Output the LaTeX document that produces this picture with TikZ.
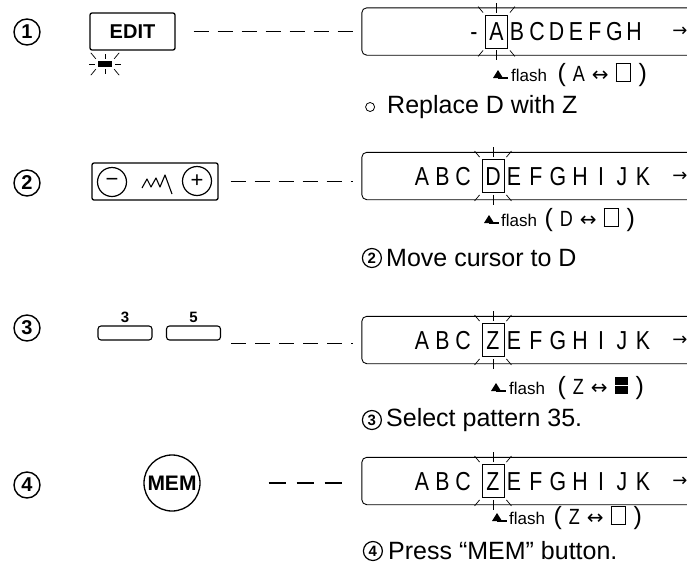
\documentclass[tikz,border=0pt]{standalone}
\usepackage{fontspec}
\setmainfont{Liberation Sans}
\newfontfamily\symfont{DejaVu Sans}
\newfontfamily\lcdfont{Liberation Sans}[FakeStretch=0.82]
\usetikzlibrary{positioning, arrows.meta}

% rays round a flashing cell
\newcommand{\sparkle}[2]{%
  \draw[ray] ([yshift=2pt]#1.north) -- ([yshift=#2]#1.north);
  \draw[ray] ([shift={(-2pt,2pt)}]#1.north west) -- ++(-5pt,6pt);
  \draw[ray] ([shift={(2pt,2pt)}]#1.north east) -- ++(5pt,6pt);
  \draw[ray] ([yshift=-2pt]#1.south) -- ([yshift=-#2]#1.south);
  \draw[ray] ([shift={(-2pt,-2pt)}]#1.south west) -- ++(-5pt,-6pt);
  \draw[ray] ([shift={(2pt,-2pt)}]#1.south east) -- ++(5pt,-6pt);
}
\newcommand{\blankcell}{{\setlength{\fboxsep}{0pt}\setlength{\fboxrule}{1pt}\fbox{\rule{0pt}{17pt}\hspace{13pt}}}}
\newcommand{\fullcell}{\rlap{\rule{13pt}{17pt}}\textcolor{white}{\rule[8pt]{13pt}{1.2pt}}}
\newcommand{\swap}[2]{{\fontsize{25}{25}\selectfont(}\hspace{7pt}{\lcdfont\fontsize{22}{22}\selectfont #1}\hspace{7pt}{\symfont\fontsize{20}{20}\selectfont ↔}\hspace{7pt}#2\hspace{8pt}{\fontsize{25}{25}\selectfont)}}

\begin{document}
\begin{tikzpicture}[x=1pt, y=-1pt,
    num/.style={circle, draw, line width=1.4pt, minimum size=26pt, inner sep=0pt, font=\bfseries\fontsize{20}{20}\selectfont},
    capnum/.style={circle, draw, line width=1.2pt, minimum size=19pt, inner sep=0pt, font=\bfseries\fontsize{15}{15}\selectfont},
    key/.style={rectangle, draw, line width=1.3pt, rounded corners=2pt, inner sep=0pt, font=\bfseries\fontsize{20}{20}\selectfont},
    pmkey/.style={circle, draw, line width=1.2pt, inner sep=0pt, minimum size=29pt, font=\fontsize{22}{22}\selectfont},
    patkey/.style={key, line width=1.1pt, rounded corners=3pt, minimum width=54pt, minimum height=14pt},
    disp/.style={minimum width=325pt, minimum height=47pt, inner sep=0pt},
    dispframe/.style={line width=0.9pt, rounded corners=5pt},
    lcd/.style={inner sep=0pt, text height=18.5pt, text depth=0pt, font=\lcdfont\fontsize{26}{26}\selectfont},
    cursor/.style={lcd, draw, line width=0.9pt, minimum width=22pt, minimum height=33pt},
    ray/.style={line width=0.7pt},
    dashline/.style={line width=1.1pt, dash pattern=on 15pt off 9pt},
    flashtxt/.style={anchor=west, inner sep=0pt, font=\fontsize{17}{17}\selectfont},
    caption/.style={anchor=west, inner sep=0pt, font=\fontsize{25}{25}\selectfont},
    flashmark/.pic={\fill (0,6pt) -- (-5pt,-2pt) -- (5pt,-2pt) -- cycle; \draw[line width=1.1pt] (0,-2pt) -- (10pt,-2pt);},
]
\useasboundingbox (0,0) rectangle (687,573);

% Step numbers
\node[num] (n1) at (27,32) {1};
\node[num] (n2) at (27,183) {2};
\node[num] (n3) at (27,328) {3};
\node[num] (n4) at (27,485) {4};

% Step 1: EDIT
\node[key, minimum width=85pt, minimum height=37pt] (edit) at (132.5,31.5) {EDIT};
\node[fill, minimum width=14pt, minimum height=6pt, inner sep=0pt] (lamp) at (105,64) {};
\sparkle{lamp}{7pt}
\draw[ray] ([xshift=-3pt]lamp.west) -- ++(-6pt,0);
\draw[ray] ([xshift=3pt]lamp.east) -- ++(6pt,0);

\node[disp] (disp1) at (524.5,31.5) {};
\draw[dispframe] (disp1.north east) -- (disp1.north west) -- (disp1.south west) -- (disp1.south east);
\node[lcd] (dash1) at (474,31.5) {-};
\node[cursor] (cur1) at (496.5,31.5) {A};
\sparkle{cur1}{12pt}
\foreach \ch/\x [count=\i] in {B/517, C/537, D/556.5, E/576, F/595, G/614.5, H/634}
  \node[lcd] (ra\i) at (\x,31.5) {\ch};
\node[lcd, font=\symfont\fontsize{18}{18}\selectfont, text height=10pt] (end1) at (680,31.5) {→};

\draw[dashline, shorten <=18pt, shorten >=9pt] (edit.east) -- (edit.east -| disp1.west);

\pic (fm1) at (498,76) {flashmark};
\node[flashtxt] (fl1) at (511,75) {flash};
\node[flashtxt, right=10pt of fl1] (fp1) {\swap{A}{\blankcell}};

\node[caption] (cap1) at (387,107) {Replace D with Z};
\node[circle, draw, line width=0.8pt, minimum size=9pt, inner sep=0pt, left=12pt of cap1] (dot1) {};

% Step 2: cursor keys
\node[key, minimum width=126pt, minimum height=37pt] (slider) at (155,181.5) {};
\node[pmkey] (minus) at (112,182) {−};
\node[pmkey] (plus) at (197,181) {+};
\draw[line width=1.1pt, line join=round] (142,188) -- (147,179) -- (151,187) -- (156,178) -- (160,187) -- (165,175) -- (172,194);

\node[disp] (disp2) at (524.5,176) {};
\draw[dispframe] (disp2.north east) -- (disp2.north west) -- (disp2.south west) -- (disp2.south east);
\node[cursor] (cur2) at (493,176) {D};
\sparkle{cur2}{12pt}
\foreach \ch/\x [count=\i] in {A/422, B/442.5, C/463, E/514, F/536, G/558, H/580, I/601, J/622, K/643}
  \node[lcd] (rb\i) at (\x,176) {\ch};
\node[lcd, font=\symfont\fontsize{18}{18}\selectfont, text height=10pt] (end2) at (680,176) {→};

\draw[dashline, shorten <=12pt, shorten >=9pt] (slider.east) -- (slider.east -| disp2.west);

\pic (fm2) at (489,221) {flashmark};
\node[flashtxt] (fl2) at (501,220) {flash};
\node[flashtxt, right=7pt of fl2] (fp2) {\swap{D}{\blankcell}};

\node[caption] (cap2) at (386,258) {Move cursor to D};
\node[capnum, left=4pt of cap2] (c2) {2};

% Step 3: pattern keys
\node[patkey, label={[font=\bfseries\fontsize{15}{15}\selectfont, inner sep=0pt, yshift=3pt]above:3}] (key3) at (125,333) {};
\node[patkey, label={[font=\bfseries\fontsize{15}{15}\selectfont, inner sep=0pt, yshift=3pt]above:5}] (key5) at (193.5,333) {};

\node[disp] (disp3) at (524.5,340) {};
\draw[dispframe] (disp3.north east) -- (disp3.north west) -- (disp3.south west) -- (disp3.south east);
\node[cursor] (cur3) at (493,340) {Z};
\sparkle{cur3}{12pt}
\foreach \ch/\x [count=\i] in {A/422, B/442.5, C/463, E/514, F/536, G/558, H/580, I/601, J/622, K/643}
  \node[lcd] (rc\i) at (\x,340) {\ch};
\node[lcd, font=\symfont\fontsize{18}{18}\selectfont, text height=10pt] (end3) at (680,340) {→};

\draw[dashline, shorten <=10pt, shorten >=9pt] ([yshift=-3pt]key5.south east) -- ([yshift=-3pt]key5.south east -| disp3.west);

\pic (fm3) at (496,389) {flashmark};
\node[flashtxt] (fl3) at (509,388) {flash};
\node[flashtxt, right=12pt of fl3] (fp3) {\swap{Z}{\fullcell}};

\node[caption] (cap3) at (386,420) {Select pattern 35.};
\node[capnum, left=4pt of cap3] (c3) {3};

% Step 4: MEM
\node[circle, draw, line width=1.3pt, minimum size=56pt, inner sep=0pt, font=\bfseries\fontsize{21}{21}\selectfont] (mem) at (172,483) {MEM};

\node[disp] (disp4) at (524.5,481) {};
\draw[dispframe] (disp4.north east) -- (disp4.north west) -- (disp4.south west) -- (disp4.south east);
\node[cursor] (cur4) at (493,481) {Z};
\sparkle{cur4}{12pt}
\foreach \ch/\x [count=\i] in {A/422, B/442.5, C/463, E/514, F/536, G/558, H/580, I/601, J/622, K/643}
  \node[lcd] (rd\i) at (\x,481) {\ch};
\node[lcd, font=\symfont\fontsize{18}{18}\selectfont, text height=10pt] (end4) at (680,481) {→};

\draw[dashline, dash pattern=on 17pt off 11pt, shorten <=68pt, shorten >=20pt] (mem.east) -- (mem.east -| disp4.west);

\pic (fm4) at (497,519) {flashmark};
\node[flashtxt] (fl4) at (509,518) {flash};
\node[flashtxt, right=8pt of fl4] (fp4) {\swap{Z}{\blankcell}};

\node[caption] (cap4) at (388,551) {Press “MEM” button.};
\node[capnum, left=5pt of cap4] (c4) {4};

\end{tikzpicture}
\end{document}
